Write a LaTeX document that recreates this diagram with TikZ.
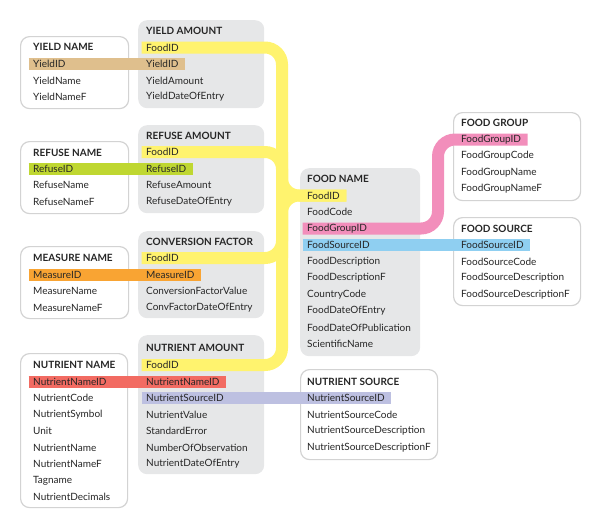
\documentclass[tikz,border=0pt]{standalone}
\usepackage{fontspec}
\setmainfont{Lato}
\usetikzlibrary{calc}
\pgfdeclarelayer{boxes}\pgfdeclarelayer{bars}
\pgfsetlayers{boxes,bars,main}
\definecolor{boxgray}{HTML}{E6E7E8}
\definecolor{boxline}{HTML}{D3D3D3}
\definecolor{txt}{HTML}{262626}
\definecolor{cyellow}{HTML}{FFF36E}
\definecolor{ctan}{HTML}{DFBF8D}
\definecolor{cgreen}{HTML}{BFD731}
\definecolor{corange}{HTML}{F9A433}
\definecolor{cred}{HTML}{F26B62}
\definecolor{clav}{HTML}{BDC0E1}
\definecolor{cpink}{HTML}{F28EBB}
\definecolor{cblue}{HTML}{8FCFF1}
\begin{document}
\begin{tikzpicture}[x=1pt,y=-1pt,
 graybox/.style={fill=boxgray, draw=none, rounded corners=9pt, anchor=north west, inner sep=0pt},
 whitebox/.style={fill=white, draw=boxline, line width=1.2pt, rounded corners=9pt, anchor=north west, inner sep=0pt},
 ttl/.style={anchor=west, inner xsep=4.5pt, inner ysep=0pt, font=\fontsize{10}{11}\selectfont\bfseries, text=txt},
 row/.style={anchor=west, inner xsep=4.5pt, inner ysep=0pt, minimum height=12pt, font=\fontsize{10}{11}\selectfont, text=txt},
 bar/.style={line width=12pt, line cap=butt},
 link/.style={line width=12pt, line cap=butt, rounded corners=17pt, cyellow},
]
\useasboundingbox (0,0) rectangle (600,528);
\begin{pgfonlayer}{boxes}
\node[whitebox, minimum width=108pt, minimum height=72pt] (yn) at (20,36) {};
\node[graybox, minimum width=126pt, minimum height=88pt] (ya) at (138,20) {};
\node[whitebox, minimum width=108pt, minimum height=72pt] (rn) at (20,141) {};
\node[graybox, minimum width=126pt, minimum height=88pt] (ra) at (138,125) {};
\node[whitebox, minimum width=108pt, minimum height=72pt] (mn) at (20,246) {};
\node[graybox, minimum width=126pt, minimum height=87pt] (cf) at (138,231) {};
\node[whitebox, minimum width=107pt, minimum height=154pt] (nn) at (20,353) {};
\node[graybox, minimum width=126pt, minimum height=139pt] (na) at (138,335) {};
\node[graybox, minimum width=120pt, minimum height=188pt] (fn) at (300,168) {};
\node[whitebox, minimum width=127pt, minimum height=88pt] (fg) at (453,112) {};
\node[whitebox, minimum width=127pt, minimum height=88pt] (fs) at (453,217) {};
\node[whitebox, minimum width=137pt, minimum height=90pt] (ns) at (300,369) {};
\end{pgfonlayer}
% YIELD NAME
\node[ttl] (ynt) at (28.5,47) {YIELD NAME};
\node[row] (yn1) at (28.5,64) {YieldID};
\node[row] (yn2) at (28.5,80.5) {YieldName};
\node[row] (yn3) at (28.5,97) {YieldNameF};
% YIELD AMOUNT
\node[ttl] (yat) at (141.5,31) {YIELD AMOUNT};
\node[row] (ya1) at (141.5,47.5) {FoodID};
\node[row] (ya2) at (141.5,64) {YieldID};
\node[row] (ya3) at (141.5,80.5) {YieldAmount};
\node[row] (ya4) at (141.5,97) {YieldDateOfEntry};
% REFUSE NAME
\node[ttl] (rnt) at (28.5,153) {REFUSE NAME};
\node[row] (rn1) at (28.5,168.5) {RefuseID};
\node[row] (rn2) at (28.5,185) {RefuseName};
\node[row] (rn3) at (28.5,201.5) {RefuseNameF};
% REFUSE AMOUNT
\node[ttl] (rat) at (141.5,136) {REFUSE AMOUNT};
\node[row] (ra1) at (141.5,152) {FoodID};
\node[row] (ra2) at (141.5,168.5) {RefuseID};
\node[row] (ra3) at (141.5,185) {RefuseAmount};
\node[row] (ra4) at (141.5,201.5) {RefuseDateOfEntry};
% MEASURE NAME
\node[ttl] (mnt) at (28.5,257.5) {MEASURE NAME};
\node[row] (mn1) at (28.5,274.5) {MeasureID};
\node[row] (mn2) at (28.5,291) {MeasureName};
\node[row] (mn3) at (28.5,307.5) {MeasureNameF};
% CONVERSION FACTOR
\node[ttl] (cft) at (141.5,241.5) {CONVERSION FACTOR};
\node[row] (cf1) at (141.5,258) {FoodID};
\node[row] (cf2) at (141.5,274.5) {MeasureID};
\node[row] (cf3) at (141.5,291) {ConversionFactorValue};
\node[row] (cf4) at (141.5,307.5) {ConvFactorDateOfEntry};
% NUTRIENT NAME
\node[ttl] (nnt) at (28.5,364.5) {NUTRIENT NAME};
\node[row] (nn1) at (28.5,381.5) {NutrientNameID};
\node[row] (nn2) at (28.5,398) {NutrientCode};
\node[row] (nn3) at (28.5,414.5) {NutrientSymbol};
\node[row] (nn4) at (28.5,431) {Unit};
\node[row] (nn5) at (28.5,447.5) {NutrientName};
\node[row] (nn6) at (28.5,464) {NutrientNameF};
\node[row] (nn7) at (28.5,480.5) {Tagname};
\node[row] (nn8) at (28.5,497) {NutrientDecimals};
% NUTRIENT AMOUNT
\node[ttl] (nat) at (141.5,348) {NUTRIENT AMOUNT};
\node[row] (na1) at (141.5,365) {FoodID};
\node[row] (na2) at (141.5,381.5) {NutrientNameID};
\node[row] (na3) at (141.5,398) {NutrientSourceID};
\node[row] (na4) at (141.5,414.5) {NutrientValue};
\node[row] (na5) at (141.5,431) {StandardError};
\node[row] (na6) at (141.5,447.5) {NumberOfObservation};
\node[row] (na7) at (141.5,464) {NutrientDateOfEntry};
% FOOD NAME
\node[ttl] (fnt) at (302.5,179) {FOOD NAME};
\node[row] (fn1) at (302.5,195.5) {FoodID};
\node[row] (fn2) at (302.5,212) {FoodCode};
\node[row] (fn3) at (302.5,228.5) {FoodGroupID};
\node[row] (fn4) at (302.5,245) {FoodSourceID};
\node[row] (fn5) at (302.5,261.5) {FoodDescription};
\node[row] (fn6) at (302.5,278) {FoodDescriptionF};
\node[row] (fn7) at (302.5,294.5) {CountryCode};
\node[row] (fn8) at (302.5,311) {FoodDateOfEntry};
\node[row] (fn9) at (302.5,327.5) {FoodDateOfPublication};
\node[row] (fn10) at (302.5,344) {ScientificName};
% FOOD GROUP
\node[ttl] (fgt) at (456.5,123) {FOOD GROUP};
\node[row] (fg1) at (456.5,139.5) {FoodGroupID};
\node[row] (fg2) at (456.5,156) {FoodGroupCode};
\node[row] (fg3) at (456.5,172.5) {FoodGroupName};
\node[row] (fg4) at (456.5,189) {FoodGroupNameF};
% FOOD SOURCE
\node[ttl] (fst) at (456.5,229) {FOOD SOURCE};
\node[row] (fs1) at (456.5,245) {FoodSourceID};
\node[row] (fs2) at (456.5,261.5) {FoodSourceCode};
\node[row] (fs3) at (456.5,278) {FoodSourceDescription};
\node[row] (fs4) at (456.5,294.5) {FoodSourceDescriptionF};
% NUTRIENT SOURCE
\node[ttl] (nst) at (302.5,381.5) {NUTRIENT SOURCE};
\node[row] (ns1) at (302.5,398) {NutrientSourceID};
\node[row] (ns2) at (302.5,414.5) {NutrientSourceCode};
\node[row] (ns3) at (302.5,431) {NutrientSourceDescription};
\node[row] (ns4) at (302.5,447.5) {NutrientSourceDescriptionF};
% connectors
\coordinate (spine) at (282,0);
\coordinate (pinkx) at (438,0);
\begin{pgfonlayer}{bars}
\draw[bar, ctan] (yn1.west) -- ([xshift=2pt]ya2.east);
\draw[bar, cgreen] (rn1.west) -- ([xshift=2pt]ra2.east);
\draw[bar, corange] (mn1.west) -- ([xshift=2pt]cf2.east);
\draw[bar, cred] (nn1.west) -- ([xshift=2pt]na2.east);
\draw[bar, clav] (na3.west) -- ([xshift=2pt]ns1.east);
\draw[bar, cblue] (fn4.west) -- ([xshift=2pt]fs1.east);
\draw[link, cpink] (fn3.west) -- (fn3 -| pinkx) -- (fg1 -| pinkx) -- ([xshift=2pt]fg1.east);
\draw[link] (ya1.west) -- (ya1 -| spine) -- (na1 -| spine) -- (na1.west);
\draw[link] (ra1.west) -- (ra1 -| spine) -- (fn1 -| spine);
\draw[link] (cf1.west) -- (cf1 -| spine) -- (fn1 -| spine);
\draw[link] (ra1 -| spine) -- (fn1 -| spine) -- ([xshift=2pt]fn1.east);
\draw[link] (cf1 -| spine) -- (fn1 -| spine) -- ([xshift=2pt]fn1.east);
\end{pgfonlayer}
\end{tikzpicture}
\end{document}
